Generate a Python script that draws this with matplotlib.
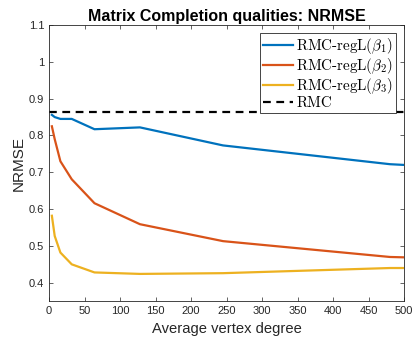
import numpy as np
import matplotlib.pyplot as plt

plt.rcParams['font.family'] = ['Liberation Sans', 'DejaVu Sans']
plt.rcParams['mathtext.fontset'] = 'cm'

deg = [4, 8, 16, 32, 64, 128, 245, 480, 500]
beta1 = [0.856, 0.850, 0.845, 0.845, 0.817, 0.822, 0.773, 0.722, 0.720]
beta2 = [0.825, 0.790, 0.730, 0.681, 0.616, 0.559, 0.513, 0.470, 0.469]
beta3 = [0.582, 0.527, 0.482, 0.450, 0.428, 0.424, 0.426, 0.440, 0.440]
rmc = 0.864

labels = [r'RMC-regL($\beta_1$)', r'RMC-regL($\beta_2$)', r'RMC-regL($\beta_3$)', 'RMC']
colors = ['#0072BD', '#D95319', '#EDB120']

fig = plt.figure(figsize=(4.12, 3.43), dpi=100)
ax = fig.add_axes([0.119, 0.122, 0.862, 0.805])

for y, c, lab in zip([beta1, beta2, beta3], colors, labels):
    ax.plot(deg, y, color=c, lw=1.6, label=lab)
ax.axhline(rmc, color='black', lw=1.6, ls=(0, (3.5, 2.5)), label=labels[3])

ax.set_xlim(0, 500)
ax.set_ylim(0.35, 1.1)
ax.set_xticks(np.arange(0, 501, 50))
ax.set_yticks([0.4, 0.5, 0.6, 0.7, 0.8, 0.9, 1.0, 1.1])
ax.set_yticklabels(['0.4', '0.5', '0.6', '0.7', '0.8', '0.9', '1', '1.1'])
ax.tick_params(direction='in', top=True, right=True, labelsize=8, colors='#262626',
               length=3, width=0.5)
for s in ax.spines.values():
    s.set_linewidth(0.6)
    s.set_color('#262626')

ax.set_title('Matrix Completion qualities: NRMSE', fontsize=11.5, fontweight='bold', pad=3)
ax.set_xlabel('Average vertex degree', fontsize=10.6, color='#262626')
ax.set_ylabel('NRMSE', fontsize=11, color='#262626', labelpad=2)

leg = ax.legend(loc='upper right', prop={'family': 'cmr10', 'size': 10.8},
                fancybox=False, edgecolor='#262626', framealpha=1,
                borderaxespad=0.55, handlelength=2.0, handletextpad=0.2,
                labelspacing=0.0, borderpad=0.2)
leg.get_frame().set_linewidth(0.6)

fig.savefig('out.png', dpi=100)
